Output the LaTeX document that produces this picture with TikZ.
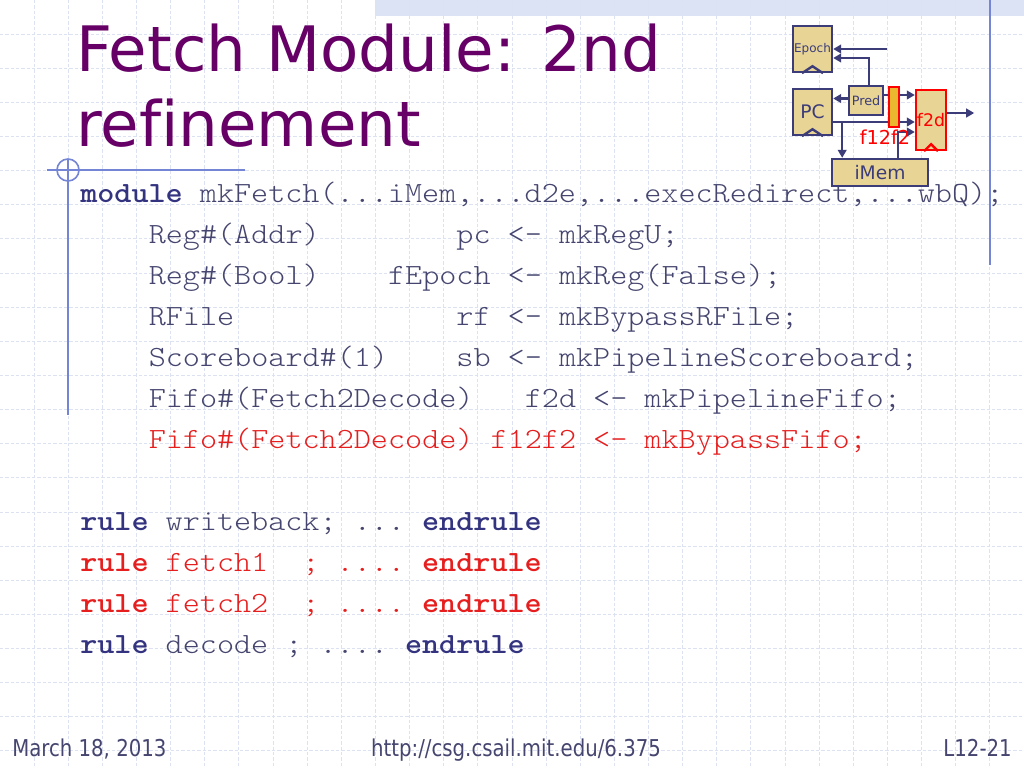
\documentclass[tikz,border=0pt]{standalone}
\usepackage{fontspec}
\setmainfont{DejaVu Sans}[Ligatures=NoCommon]
\setmonofont{lmmonolt10-regular.otf}[BoldFont=lmmonolt10-bold.otf, FakeStretch=1.11]
\newfontfamily\footfont[FakeStretch=0.85]{DejaVu Sans}
\usetikzlibrary{arrows.meta, calc}
\definecolor{titlepurple}{HTML}{660066}
\definecolor{codeblue}{HTML}{333380}
\definecolor{codegray}{HTML}{45456F}
\definecolor{codered}{HTML}{E61E1E}
\definecolor{boxtan}{HTML}{E8D596}
\definecolor{boxline}{HTML}{3C3C78}
\definecolor{barorange}{HTML}{EBB72F}
\definecolor{gridblue}{HTML}{DCE2F2}
\definecolor{decoblue}{HTML}{7585D5}
\definecolor{bandblue}{HTML}{DCE3F5}
\newcommand\px{0.75pt}
\newcommand\kw[1]{\textbf{\color{codeblue}#1}}
\tikzset{Slide/.style={
    x=0.75pt, y=-0.75pt,
    gridline/.style = {draw=gridblue, line width=0.75pt, dash pattern=on 2.5pt off 1.5pt},
    decoline/.style = {draw=decoblue, line width=1.2pt},
    title/.style = {anchor=base west, inner sep=0pt, text=titlepurple, font=\fontsize{47}{56}\selectfont},
    code/.style = {anchor=base west, inner sep=0pt, text=codegray, font=\fontsize{22}{26}\ttfamily},
    redcode/.style = {code, text=codered},
    foot/.style = {inner sep=0pt, text=codegray, font=\footfont\fontsize{17.4}{20}\selectfont},
    reg/.style = {draw=boxline, line width=1.8pt, fill=boxtan, inner sep=0pt, text=boxline},
    fifo/.style = {reg, draw=red, text=red},
    wire/.style = {draw=boxline, line width=1.8pt, -{Triangle[length=6pt, width=6.5pt]}}
}}

\begin{document}
\begin{tikzpicture}[Slide]
    \useasboundingbox (0,0) rectangle (1024,768);
    \fill[white] (0,0) rectangle (1024,768);
    % background grid
    \fill[bandblue] (375,0) rectangle (1024,16);
    \foreach \i in {1,...,29}
        \draw[gridline] (\i*34.133,0) -- (\i*34.133,768);
    \foreach \j in {1,...,22}
        \draw[gridline] (0,\j*34.133) -- (1024,\j*34.133);
    \draw[decoline] (990,0) -- (990,265);
    \draw[decoline] (68,160) -- (68,415);
    \draw[decoline] (47,170) -- (245,170);
    \draw[decoline] (68,170) circle[radius=11];

    % title
    \node[title] (title1) at (76,71) {Fetch Module: 2nd};
    \node[title] (title2) at (76,146) {refinement};

    % code
    \node[code] (c1) at (80,202) {\kw{module} mkFetch(...iMem,...d2e,...execRedirect,...wbQ);};
    \node[code] (c2) at (148.5,243) {Reg\#(Addr)~~~~~~~~pc <- mkRegU;};
    \node[code] (c3) at (148.5,284) {Reg\#(Bool)~~~~fEpoch <- mkReg(False);};
    \node[code] (c4) at (148.5,325) {RFile~~~~~~~~~~~~~rf <- mkBypassRFile;};
    \node[code] (c5) at (148.5,366) {Scoreboard\#(1)~~~~sb <- mkPipelineScoreboard;};
    \node[code] (c6) at (148.5,407) {Fifo\#(Fetch2Decode)~~~f2d <- mkPipelineFifo;};
    \node[redcode] (c7) at (148.5,448) {Fifo\#(Fetch2Decode) f12f2 <- mkBypassFifo;};

    \node[code] (r1) at (80,530) {\kw{rule} writeback; ... \kw{endrule}};
    \node[redcode] (r2) at (80,571) {\textbf{rule} fetch1~~; .... \textbf{endrule}};
    \node[redcode] (r3) at (80,612) {\textbf{rule} fetch2~~; .... \textbf{endrule}};
    \node[code] (r4) at (80,653) {\kw{rule} decode ; .... \kw{endrule}};

    % small pipeline picture
    \node[reg, minimum width=39*\px, minimum height=46*\px, font=\fontsize{9}{10}\selectfont] (epoch) at (812.5,49) {Epoch};
    \node[reg, minimum width=39*\px, minimum height=46*\px, font=\fontsize{14}{16}\selectfont] (pc) at (812.5,112) {PC};
    \node[reg, minimum width=34*\px, minimum height=29*\px, font=\fontsize{9.6}{11}\selectfont] (pred) at (866,100.5) {Pred};
    \node[fifo, minimum width=30*\px, minimum height=60*\px, font=\fontsize{13}{15}\selectfont] (f2d) at (931,120) {f2d};
    \node[reg, minimum width=96*\px, minimum height=27*\px, font=\fontsize{14}{16}\selectfont] (imem) at (880,172.5) {iMem};

    \draw[boxline, line width=1.8pt] ($(epoch.south)+(-10.5,0)$) -- ($(epoch.south)+(0,-7)$) -- ($(epoch.south)+(10.5,0)$);
    \draw[boxline, line width=1.8pt] ($(pc.south)+(-10.5,0)$) -- ($(pc.south)+(0,-7)$) -- ($(pc.south)+(10.5,0)$);
    \draw[red, line width=1.8pt] ($(f2d.south)+(-7,0)$) -- ($(f2d.south)+(0,-7)$) -- ($(f2d.south)+(7,0)$);

    \coordinate (epochin) at (887,49);
    \coordinate (tap) at ($(pc.east)+(9,10)$);
    \coordinate (f2dout) at ($(f2d.east)+(27,-7)$);
    \draw[wire] (epochin) -- (epoch.east);
    \draw[wire] ($(pred.north)+(3,0)$) |- ($(epoch.east)+(0,9)$);
    \draw[wire] ($(pred.west)+(0,-2)$) -- ($(pred.west -| pc.east)+(0,-2)$);
    \draw[wire] ($(pred.east)+(0,-5.5)$) -- ($(f2d.west)+(0,-25)$);
    \draw[wire] ($(pc.east)+(0,10)$) -- ($(f2d.west)+(0,2)$);
    \draw[wire] (tap) -- (tap |- imem.north);
    \draw[wire] ($(imem.north)+(18,0)$) |- ($(f2d.west)+(0,12)$);
    \draw[wire] ($(f2d.east)+(0,-7)$) -- (f2dout);

    \node[fill=barorange, draw=red, line width=1.5pt, minimum width=10*\px, minimum height=40*\px, inner sep=0pt] (f12f2) at (894,107) {};
    \node[inner sep=0pt, text=red, font=\fontsize{14.4}{16}\selectfont] (f12f2label) at (885,137) {f12f2};

    % footer
    \node[foot, anchor=base west] (date) at (12,756) {March 18, 2013};
    \node[foot, anchor=base] (url) at (516,756) {http://csg.csail.mit.edu/6.375};
    \node[foot, anchor=base east] (page) at (1012,756) {L12-21};
\end{tikzpicture}
\end{document}
